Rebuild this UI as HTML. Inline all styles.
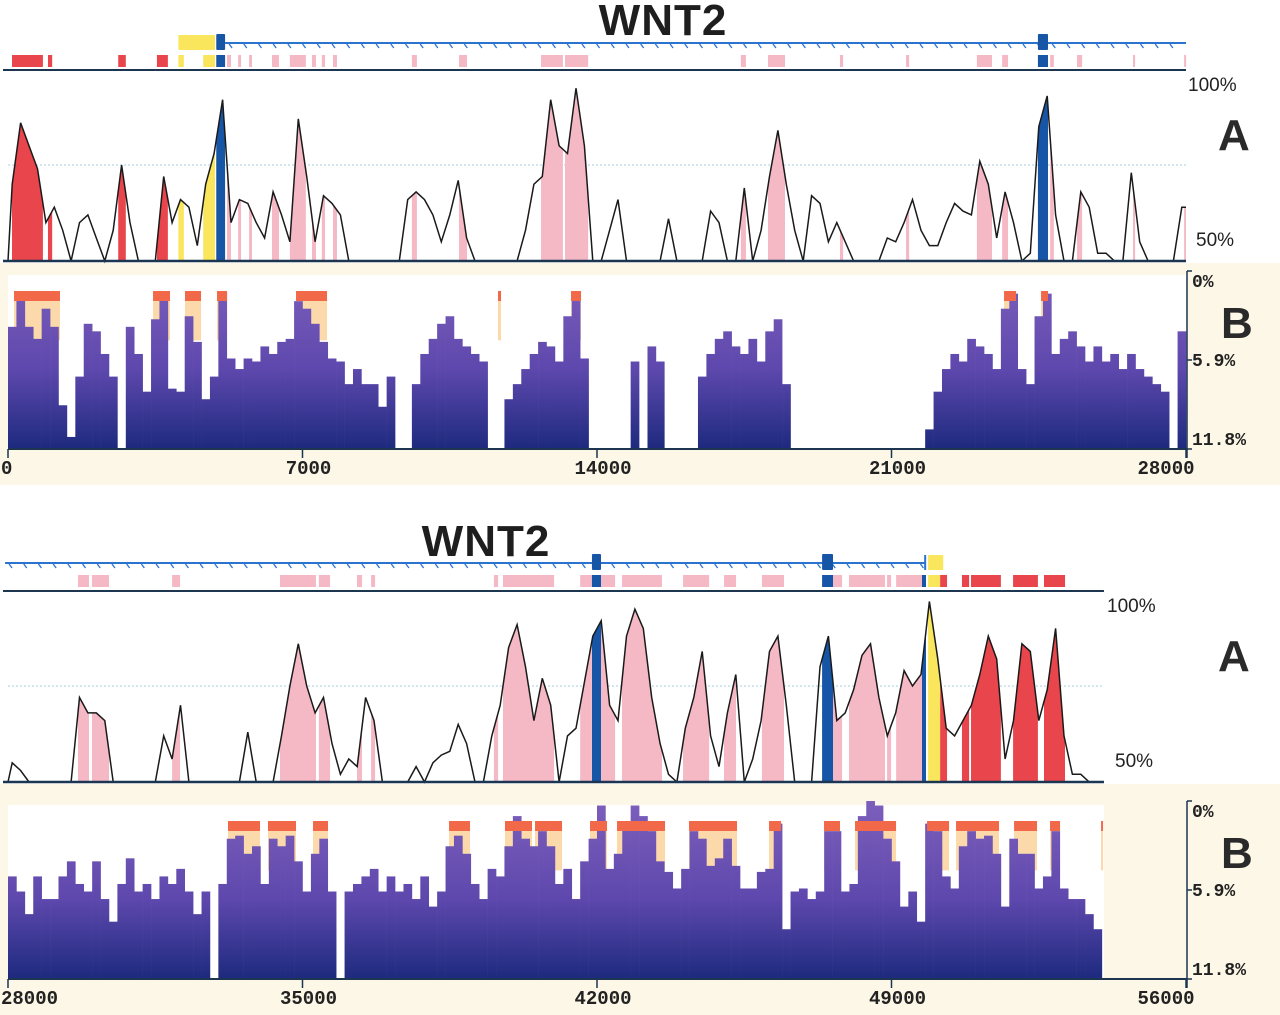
<!DOCTYPE html>
<html><head><meta charset="utf-8"><title>WNT2 conservation</title>
<style>
html,body{margin:0;padding:0;background:#fff;}
svg{display:block;}
.mono{font-family:"Liberation Mono",monospace;font-weight:bold;}
.sans{font-family:"Liberation Sans",sans-serif;}
</style></head>
<body>
<svg id="chart" xmlns="http://www.w3.org/2000/svg" width="1280" height="1015" viewBox="0 0 1280 1015">
<defs>
<linearGradient id="gradTop" gradientUnits="userSpaceOnUse" x1="0" y1="271" x2="0" y2="449">
<stop offset="0" stop-color="#7d5fbb"/><stop offset="0.55" stop-color="#5e48ad"/><stop offset="1" stop-color="#1d2a7e"/></linearGradient>
<linearGradient id="gradBot" gradientUnits="userSpaceOnUse" x1="0" y1="801" x2="0" y2="979">
<stop offset="0" stop-color="#7d5fbb"/><stop offset="0.55" stop-color="#5e48ad"/><stop offset="1" stop-color="#1d2a7e"/></linearGradient>
</defs>
</svg>
<script>
// ---------- data (bins of 200 bp) ----------
const binSize = 200;
const topStart = 0;
const botStart = 28000;
const xTickLabelsTop = ["0","7000","14000","21000","28000"];
const xTickLabelsBot = ["28000","35000","42000","49000","56000"];
const xTickValuesTop = [0,7000,14000,21000,28000];
const xTickValuesBot = [28000,35000,42000,49000,56000];
const aTickLabels = ["100%","50%"];
const bTickLabels = ["0%","5.9%","11.8%"];
const bTickValues = [0,5.9,11.8];

const topCons = [
70,86,80,74,60,64,58,50,60,62,
56,50,58,75,60,50,50,50,72,60,
66,64,54,70,78,92,60,66,65,60,
56,68,62,55,87,72,55,67,65,62,
50,50,50,50,50,50,50,66,68,66,
62,55,62,71,56,50,50,50,50,50,
50,58,70,72,92,80,78,95,80,50,
50,58,66,50,50,50,50,50,61,50,
50,50,50,63,60,50,50,69,50,58,
72,84,70,58,50,67,65,55,60,55,
50,50,50,50,56,55,60,66,58,54,
54,60,65,63,62,76,70,56,68,60,
50,52,85,93,62,50,50,68,64,52,
52,50,50,73,55,50,50,50,50,64];

const topDiv = [
3.7,1.5,3.7,4.5,2.5,3.7,8.9,11,7.0,3.5,
4.0,5.5,7,11.8,3.7,5.5,8,3.2,1.5,7.8,
8,3.0,4.7,8.5,7,1.4,5.8,6.5,5.8,6.0,
5.0,5.5,4.7,4.5,2.0,2.5,3.5,4.7,5.8,6.0,
7.5,6.5,7.5,7.5,9.0,7.0,11.8,11.8,7.5,5.5,
4.5,3.5,3.0,4.5,5.0,5.5,6.0,11.8,11.8,8.5,
7.5,6.5,5.5,4.7,5.0,6.0,3.0,1.6,5.8,11.8,
11.8,11.8,11.8,11.8,6.0,11.8,5.0,6.0,11.8,11.8,
11.8,11.8,7,5.5,4.5,4.0,5.0,5.5,4.5,6.0,
4.0,3.2,7.5,11.8,11.8,11.8,11.8,11.8,11.8,11.8,
11.8,11.8,11.8,11.8,11.8,11.8,11.8,11.8,11.8,10.5,
8.0,6.5,5.5,6.0,4.5,5.0,5.5,6.5,2.5,1.5,
6.5,7.5,3.0,1.5,5.5,4.5,4.0,5.0,6.0,5.0,
6.0,5.5,6.5,5.5,6.5,7.0,7.5,8.0,11.8,4.0];

const botCons = [
55,53,50,50,50,50,50,50,72,68,
68,66,50,50,50,50,50,50,62,56,
70,50,50,50,50,50,50,50,63,50,
50,50,62,75,86,75,68,72,60,52,
56,54,72,66,50,50,50,50,54,50,
55,57,58,65,60,50,50,62,70,85,
91,80,66,77,70,50,62,64,76,88,
92,70,66,88,95,90,72,60,52,50,
64,72,84,62,54,68,78,50,56,66,
84,88,70,50,50,50,80,88,66,68,
74,83,86,72,62,68,79,75,78,97,
82,64,62,66,70,78,88,82,56,66,
86,84,66,74,90,62,52,52,50,50,
null,null,null,null,null,null,null,null,null,null];

const botDiv = [
5.0,6.0,7.5,5.0,6.5,6.5,5.0,4.0,5.5,6.0,
4.0,6.5,8,5.5,3.8,6.0,5.5,6.5,5.0,5.5,
4.5,6.0,7.5,6.0,11.8,5.5,2.5,2.3,3.5,3.0,
5.5,2.5,3.0,2.3,4.0,6.0,3.5,2.5,6.0,11.8,
6.0,5.5,5.0,4.5,6.0,5.0,6.0,5.5,6.5,5.0,
7.0,6.0,3.0,2.3,3.5,5.5,6.5,4.5,5.0,3.0,
1.0,2.5,3.0,2.0,3.0,5.5,4.5,6.5,4.0,2.5,
0.3,4.5,3.5,1.5,0.3,1.0,2.0,4.0,4.7,5.8,
4.5,2.0,2.5,4.3,3.8,2.5,4.3,5.8,5.8,4.7,
4.5,1.5,8.5,6.0,5.8,6.5,6.0,2.0,2.0,6.0,
5.5,1.0,0.0,0.3,2.5,4.0,7.0,6.0,8.0,1.5,
2.0,5.0,5.8,3.0,2.0,2.5,2.3,3.5,7.0,2.5,
3.5,3.5,5.8,5.0,2.0,5.8,6.5,6.5,7.5,8.5,
null,null,null,null,null,null,null,null,null,null];

// annotated regions (bp)
const topRed = [[95,830],[950,1050],[2620,2800],[3540,3800]];
const topYellow = [[4050,4180],[4640,4920]];
const topBlue = [[4950,5160],[24480,24720]];
const topPink = [[5206,5300],[5470,5540],[5730,5800],[6275,6440],[6700,7080],[7225,7320],[7460,7535],[7725,7820],[9600,9720],[10720,10910],[12670,13190],[13240,13790],[17420,17540],[18065,18470],[19775,19850],[21345,21420],[23030,23390],[23630,23770],[24770,24860],[25410,25530],[26740,26790],[27955,28000]];
const botPink = [[29664,29925],[29997,30400],[31900,32090],[34465,35320],[35390,35655],[36295,36415],[36630,36725],[39550,39650],[39765,40980],[41600,41880],[42095,42430],[42595,43545],[44045,44665],[45020,45305],[45920,46445],[47610,47825],[47990,48845],[48895,48990],[49110,49725]];
const botBlue = [[41880,42095],[47350,47610],[49725,49820]];
const botYellow = [[49870,50155]];
const botRed = [[50155,50320],[50675,50845],[50890,51600],[51890,52480],[52625,53125]];

// gene model
const topGeneLine = [5160,28000];
const topUtrBox = [4050,4920];
const topExons = [[4950,5160],[24480,24720]];
const botGeneLine = [27930,49800];
const botExons = [[41880,42095],[47350,47610]];
const botUtrBox = [49870,50230];

// conserved-block caps in B
const topCaps = [[143,1236],[3447,3851],[4207,4588],[4968,5206],[6846,7583],[11647,11719],[13383,13620],[23675,23960],[24555,24720]];
const botCaps = [[33229,33990],[34180,34846],[35250,35606],[38483,38982],[39813,40455],[40527,41169],[41834,42238],[42476,43617],[44187,45328],[46089,46374],[47396,47776],[48133,49108],[49845,50368],[50534,51556],[51913,52459],[52768,53006],[53981,54029]];

// ---------- drawing ----------
const NS = "http://www.w3.org/2000/svg";
const svg = document.getElementById("chart");
function el(tag, attrs, parent, name, inter){
  const e = document.createElementNS(NS, tag);
  for (const k in attrs) e.setAttribute(k, attrs[k]);
  
  
  (parent || svg).appendChild(e);
  return e;
}
const COL = {red:"#e8454c", pink:"#f5b9c6", yellow:"#f9e65c", blue:"#1756a6", cap:"#f2694a", peach:"#fbd9aa", beige:"#fcf7e6", gene:"#2a74d0"};

function panel(cfg){
  const off = cfg.off;
  const X = bp => 8 + (bp - off) / 28000 * 1178;
  const YA = v => cfg.aBase - (v - 50) / 50 * 192;
  const YB = p => cfg.bTop + p / 11.8 * 178;
  const g = el('g', {}, svg, cfg.name, false);

  el('rect', {x:0, y:cfg.aBase+2, width:1280, height:cfg.bgH, fill:COL.beige}, g, 'b-panel-background', false);
  el('rect', {x:8, y:cfg.bTop+4, width:X(cfg.dataEnd)-8, height:178-4, fill:"#ffffff"}, g, 'b-plot-area', false);

  const t = el('text', {x:cfg.titleX, y:cfg.titleY, 'text-anchor':'middle', 'font-size':44, 'font-weight':'bold', fill:'#1e1e1e', 'letter-spacing':1, class:'sans'}, g, 'gene-title', false);
  t.textContent = 'WNT2';

  const gy = cfg.geneY;
  el('line', {x1:X(cfg.geneLine[0]), y1:gy, x2:X(cfg.geneLine[1]), y2:gy, stroke:COL.gene, 'stroke-width':2}, g, 'intron-line', false);
  for (let x = X(cfg.geneLine[0]) + 4; x < X(cfg.geneLine[1]) - 2; x += 14.7) {
    el('line', {x1:x, y1:gy+1, x2:x+3, y2:gy+5, stroke:COL.gene, 'stroke-width':1.3}, g, 'strand-hatch', false);
  }
  el('rect', {x:X(cfg.utr[0]), y:gy-8, width:X(cfg.utr[1])-X(cfg.utr[0]), height:15, fill:COL.yellow}, g, 'utr-box', false);
  cfg.exons.forEach(r => {
    el('rect', {x:X(r[0]), y:gy-9, width:X(r[1])-X(r[0]), height:16, fill:COL.blue, rx:1}, g, 'exon-box', false);
  });
  if (cfg.geneEndTick) el('line', {x1:X(cfg.geneLine[1]), y1:gy-8, x2:X(cfg.geneLine[1]), y2:gy+7, stroke:COL.gene, 'stroke-width':2}, g, 'gene-end-tick', false);

  const ay = gy + 12;
  const layers = [[cfg.pink, COL.pink, 'pink'],[cfg.red, COL.red, 'red'],[cfg.yellow, COL.yellow, 'yellow'],[cfg.blue, COL.blue, 'blue']];
  layers.forEach(L => L[0].forEach(r => {
    el('rect', {x:X(r[0]), y:ay, width:Math.max(2, X(r[1])-X(r[0])), height:12, fill:L[1]}, g, 'annotation-' + L[2], false);
  }));
  el('line', {x1:3, y1:cfg.aBase-192+1, x2:X(cfg.dataEnd), y2:cfg.aBase-192+1, stroke:'#1c3550', 'stroke-width':2}, g, 'annotation-separator', false);

  el('line', {x1:8, y1:YA(75), x2:X(cfg.dataEnd), y2:YA(75), stroke:'#a9cfdc', 'stroke-width':1, 'stroke-dasharray':'2,2'}, g, 'a-75-gridline', false);

  const pts = [];
  cfg.cons.forEach((v, i) => {
    if (v === null) return;
    pts.push([X(off + (i + 0.5) * binSize), YA(Math.max(50, v))]);
  });
  const last = pts[pts.length-1];
  let d = 'M' + X(off) + ',' + cfg.aBase;
  pts.forEach(p => d += ' L' + p[0].toFixed(1) + ',' + p[1].toFixed(1));
  const endX = X(off + pts.length * binSize);
  d += ' L' + endX + ',' + last[1];
  const area = d + ' L' + endX + ',' + cfg.aBase + ' Z';
  layers.forEach((L, li) => L[0].forEach((r, ri) => {
    const cid = cfg.name + '-clip-' + li + '-' + ri;
    const cp = el('clipPath', {id:cid}, svg.querySelector('defs'), 'clip-region', false);
    el('rect', {x:X(r[0]), y:0, width:Math.max(1.5, X(r[1])-X(r[0])), height:1015}, cp, 'clip-rect', false);
    el('path', {d:area, fill:L[1], 'clip-path':'url(#' + cid + ')'}, g, 'a-fill-' + L[2], false);
  }));
  el('path', {d:d, fill:'none', stroke:'#1a1a1a', 'stroke-width':1.5, 'stroke-linejoin':'miter'}, g, 'conservation-line', false);
  el('line', {x1:3, y1:cfg.aBase, x2:X(cfg.dataEnd), y2:cfg.aBase, stroke:'#1c3550', 'stroke-width':2.5}, g, 'a-baseline', false);

  const l100 = el('text', {x:cfg.aLabX, y:cfg.aBase-170, 'font-size':19, fill:'#222', class:'sans'}, g, 'a-label-100', false);
  l100.textContent = aTickLabels[0];
  const l50 = el('text', {x:cfg.aLabX+8, y:cfg.aBase-15, 'font-size':19, fill:'#222', class:'sans'}, g, 'a-label-50', false);
  l50.textContent = aTickLabels[1];
  const la = el('text', {x:1218, y:cfg.aBase-111, 'font-size':44, 'font-weight':'bold', fill:'#2a2a2a', class:'sans'}, g, 'panel-letter-a', false);
  la.textContent = 'A';

  cfg.caps.forEach(r => {
    el('rect', {x:X(r[0]), y:cfg.bTop+30, width:Math.max(2, X(r[1])-X(r[0])), height:YB(4.6)-(cfg.bTop+30), fill:COL.peach}, g, 'cap-peach', false);
  });
  cfg.div.forEach((p, i) => {
    if (p === null || p >= 11.8) return;
    const x0 = X(off + i * binSize), x1 = X(off + (i + 1) * binSize);
    el('rect', {x:x0, y:YB(p), width:x1-x0+0.3, height:cfg.bTop+178-YB(p), fill:'url(#' + cfg.grad + ')'}, g, 'divergence-bar', false);
  });
  cfg.caps.forEach(r => {
    el('rect', {x:X(r[0]), y:cfg.bTop+20, width:Math.max(2, X(r[1])-X(r[0])), height:10, fill:COL.cap}, g, 'conserved-cap', false);
  });

  const bb = cfg.bTop + 178;
  el('line', {x1:8, y1:bb, x2:1187, y2:bb, stroke:'#1c3550', 'stroke-width':2}, g, 'x-axis-line', false);
  el('line', {x1:1187, y1:cfg.bTop, x2:1187, y2:bb+9, stroke:'#1c3550', 'stroke-width':1.5}, g, 'b-y-axis-line', false);
  bTickValues.forEach((v, i) => {
    el('line', {x1:1187, y1:YB(v), x2:1192, y2:YB(v), stroke:'#1c3550', 'stroke-width':1.5}, g, 'b-y-tick', false);
    const tl = el('text', {x:1192, y:YB(v)+(i===0?16:(i===2?-4:6)), 'font-size':18, fill:'#222', class:'mono'}, g, 'b-y-tick-label', false);
    tl.textContent = bTickLabels[i];
  });
  const lb = el('text', {x:1221, y:cfg.bTop+67, 'font-size':44, 'font-weight':'bold', fill:'#2a2a2a', class:'sans'}, g, 'panel-letter-b', false);
  lb.textContent = 'B';
  cfg.xTickValues.forEach((v, i) => {
    const tx = X(v);
    el('line', {x1:tx, y1:bb, x2:tx, y2:bb+9, stroke:'#1c3550', 'stroke-width':1.5}, g, 'x-tick', false);
    const xl = el('text', {x:i===0 ? 1 : (i===4 ? tx-20 : tx+6), y:bb+25, 'font-size':19, 'text-anchor':i===0?'start':'middle', fill:'#222', class:'mono'}, g, 'x-tick-label', false);
    xl.textContent = cfg.xTickLabels[i];
  });
}

panel({name:'top-panel', off:topStart, aBase:261, bTop:271, bgH:222, dataEnd:28000, titleX:663, titleY:35,
  geneY:43, geneLine:topGeneLine, utr:topUtrBox, exons:topExons, geneEndTick:false,
  red:topRed, yellow:topYellow, blue:topBlue, pink:topPink, cons:topCons, div:topDiv, caps:topCaps,
  grad:'gradTop', aLabX:1188, xTickValues:xTickValuesTop, xTickLabels:xTickLabelsTop});
panel({name:'bottom-panel', off:botStart, aBase:782, bTop:801, bgH:231, dataEnd:54050, titleX:486, titleY:556,
  geneY:563, geneLine:botGeneLine, utr:botUtrBox, exons:botExons, geneEndTick:true,
  red:botRed, yellow:botYellow, blue:botBlue, pink:botPink, cons:botCons, div:botDiv, caps:botCaps,
  grad:'gradBot', aLabX:1107, xTickValues:xTickValuesBot, xTickLabels:xTickLabelsBot});
</script>
</body></html>
